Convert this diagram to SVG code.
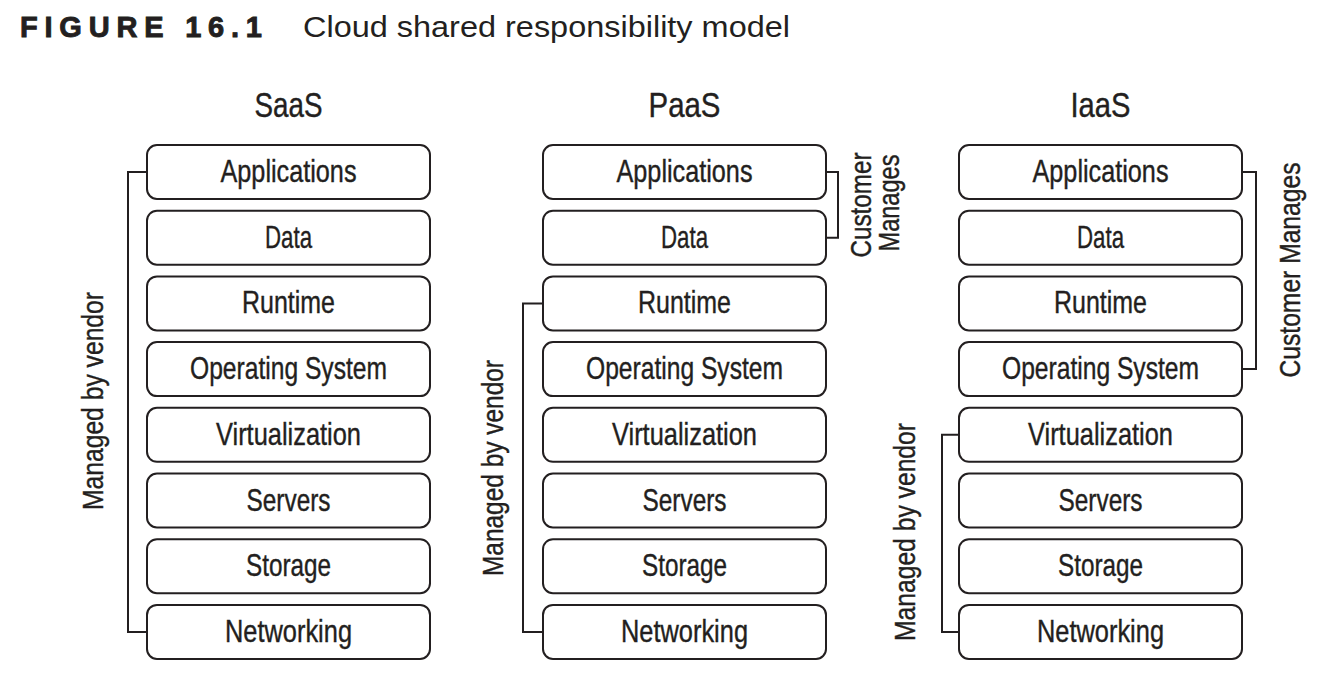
<svg xmlns="http://www.w3.org/2000/svg" width="1332" height="682" viewBox="0 0 1332 682">
<style>
.box{fill:#fff;stroke:#231f20;stroke-width:2}
.t{font-family:"Liberation Sans",Arial,sans-serif;font-size:32px;fill:#231f20;stroke:#231f20;stroke-width:0.4;text-anchor:middle}
.h{font-family:"Liberation Sans",Arial,sans-serif;font-size:35px;fill:#231f20;stroke:#231f20;stroke-width:0.4;text-anchor:middle}
.v{font-family:"Liberation Sans",Arial,sans-serif;font-size:30px;fill:#231f20;stroke:#231f20;stroke-width:0.4;text-anchor:middle}
.br{fill:none;stroke:#231f20;stroke-width:2}
</style>
<rect width="1332" height="682" fill="#fff"/>
<g id="title">
<text x="20" y="37" font-family="Liberation Sans,Arial,sans-serif" font-weight="bold" font-size="29" fill="#231f20" stroke="#231f20" stroke-width="0.9" textLength="242">FIGURE 16.1</text>
<text x="303" y="37" font-family="Liberation Sans,Arial,sans-serif" font-size="29" fill="#231f20" textLength="487" lengthAdjust="spacingAndGlyphs">Cloud shared responsibility model</text>
</g>
<g id="saas">
<text class="h" x="288.5" y="117" textLength="68" lengthAdjust="spacingAndGlyphs">SaaS</text>
<g id="saas-applications"><rect class="box" x="147" y="145" width="283" height="54" rx="10"/><text class="t" x="288.5" y="182" textLength="136" lengthAdjust="spacingAndGlyphs">Applications</text></g>
<g id="saas-data"><rect class="box" x="147" y="210.7" width="283" height="54" rx="10"/><text class="t" x="288.5" y="247.7" textLength="47" lengthAdjust="spacingAndGlyphs">Data</text></g>
<g id="saas-runtime"><rect class="box" x="147" y="276.4" width="283" height="54" rx="10"/><text class="t" x="288.5" y="313.4" textLength="93" lengthAdjust="spacingAndGlyphs">Runtime</text></g>
<g id="saas-os"><rect class="box" x="147" y="342.1" width="283" height="54" rx="10"/><text class="t" x="288.5" y="379.1" textLength="197" lengthAdjust="spacingAndGlyphs">Operating System</text></g>
<g id="saas-virtualization"><rect class="box" x="147" y="407.8" width="283" height="54" rx="10"/><text class="t" x="288.5" y="444.8" textLength="145" lengthAdjust="spacingAndGlyphs">Virtualization</text></g>
<g id="saas-servers"><rect class="box" x="147" y="473.5" width="283" height="54" rx="10"/><text class="t" x="288.5" y="510.5" textLength="84" lengthAdjust="spacingAndGlyphs">Servers</text></g>
<g id="saas-storage"><rect class="box" x="147" y="539.2" width="283" height="54" rx="10"/><text class="t" x="288.5" y="576.2" textLength="85" lengthAdjust="spacingAndGlyphs">Storage</text></g>
<g id="saas-networking"><rect class="box" x="147" y="604.9" width="283" height="54" rx="10"/><text class="t" x="288.5" y="641.9" textLength="127" lengthAdjust="spacingAndGlyphs">Networking</text></g>
</g>
<g id="paas">
<text class="h" x="684.5" y="117" textLength="72" lengthAdjust="spacingAndGlyphs">PaaS</text>
<g id="paas-applications"><rect class="box" x="543" y="145" width="283" height="54" rx="10"/><text class="t" x="684.5" y="182" textLength="136" lengthAdjust="spacingAndGlyphs">Applications</text></g>
<g id="paas-data"><rect class="box" x="543" y="210.7" width="283" height="54" rx="10"/><text class="t" x="684.5" y="247.7" textLength="47" lengthAdjust="spacingAndGlyphs">Data</text></g>
<g id="paas-runtime"><rect class="box" x="543" y="276.4" width="283" height="54" rx="10"/><text class="t" x="684.5" y="313.4" textLength="93" lengthAdjust="spacingAndGlyphs">Runtime</text></g>
<g id="paas-os"><rect class="box" x="543" y="342.1" width="283" height="54" rx="10"/><text class="t" x="684.5" y="379.1" textLength="197" lengthAdjust="spacingAndGlyphs">Operating System</text></g>
<g id="paas-virtualization"><rect class="box" x="543" y="407.8" width="283" height="54" rx="10"/><text class="t" x="684.5" y="444.8" textLength="145" lengthAdjust="spacingAndGlyphs">Virtualization</text></g>
<g id="paas-servers"><rect class="box" x="543" y="473.5" width="283" height="54" rx="10"/><text class="t" x="684.5" y="510.5" textLength="84" lengthAdjust="spacingAndGlyphs">Servers</text></g>
<g id="paas-storage"><rect class="box" x="543" y="539.2" width="283" height="54" rx="10"/><text class="t" x="684.5" y="576.2" textLength="85" lengthAdjust="spacingAndGlyphs">Storage</text></g>
<g id="paas-networking"><rect class="box" x="543" y="604.9" width="283" height="54" rx="10"/><text class="t" x="684.5" y="641.9" textLength="127" lengthAdjust="spacingAndGlyphs">Networking</text></g>
</g>
<g id="iaas">
<text class="h" x="1100.5" y="117" textLength="60" lengthAdjust="spacingAndGlyphs">IaaS</text>
<g id="iaas-applications"><rect class="box" x="959" y="145" width="283" height="54" rx="10"/><text class="t" x="1100.5" y="182" textLength="136" lengthAdjust="spacingAndGlyphs">Applications</text></g>
<g id="iaas-data"><rect class="box" x="959" y="210.7" width="283" height="54" rx="10"/><text class="t" x="1100.5" y="247.7" textLength="47" lengthAdjust="spacingAndGlyphs">Data</text></g>
<g id="iaas-runtime"><rect class="box" x="959" y="276.4" width="283" height="54" rx="10"/><text class="t" x="1100.5" y="313.4" textLength="93" lengthAdjust="spacingAndGlyphs">Runtime</text></g>
<g id="iaas-os"><rect class="box" x="959" y="342.1" width="283" height="54" rx="10"/><text class="t" x="1100.5" y="379.1" textLength="197" lengthAdjust="spacingAndGlyphs">Operating System</text></g>
<g id="iaas-virtualization"><rect class="box" x="959" y="407.8" width="283" height="54" rx="10"/><text class="t" x="1100.5" y="444.8" textLength="145" lengthAdjust="spacingAndGlyphs">Virtualization</text></g>
<g id="iaas-servers"><rect class="box" x="959" y="473.5" width="283" height="54" rx="10"/><text class="t" x="1100.5" y="510.5" textLength="84" lengthAdjust="spacingAndGlyphs">Servers</text></g>
<g id="iaas-storage"><rect class="box" x="959" y="539.2" width="283" height="54" rx="10"/><text class="t" x="1100.5" y="576.2" textLength="85" lengthAdjust="spacingAndGlyphs">Storage</text></g>
<g id="iaas-networking"><rect class="box" x="959" y="604.9" width="283" height="54" rx="10"/><text class="t" x="1100.5" y="641.9" textLength="127" lengthAdjust="spacingAndGlyphs">Networking</text></g>
</g>
<g id="connectors">
<path class="br" d="M147,172 H128 V632 H147"/>
<path class="br" d="M543,303.4 H523 V632 H543"/>
<path class="br" d="M826,172 H838 V237.7 H826"/>
<path class="br" d="M959,434.8 H942 V632 H959"/>
<path class="br" d="M1242,172 H1256 V369.1 H1242"/>
</g>
<g id="labels">
<text class="v" transform="translate(103,401) rotate(-90)" textLength="218" lengthAdjust="spacingAndGlyphs">Managed by vendor</text>
<text class="v" transform="translate(503,468) rotate(-90)" textLength="216" lengthAdjust="spacingAndGlyphs">Managed by vendor</text>
<text class="v" transform="translate(915,532) rotate(-90)" textLength="218" lengthAdjust="spacingAndGlyphs">Managed by vendor</text>
<text class="v" transform="translate(871,205) rotate(-90)" textLength="105" lengthAdjust="spacingAndGlyphs">Customer</text>
<text class="v" transform="translate(899,203) rotate(-90)" textLength="97" lengthAdjust="spacingAndGlyphs">Manages</text>
<text class="v" transform="translate(1300,270) rotate(-90)" textLength="215" lengthAdjust="spacingAndGlyphs">Customer Manages</text>
</g>
</svg>
